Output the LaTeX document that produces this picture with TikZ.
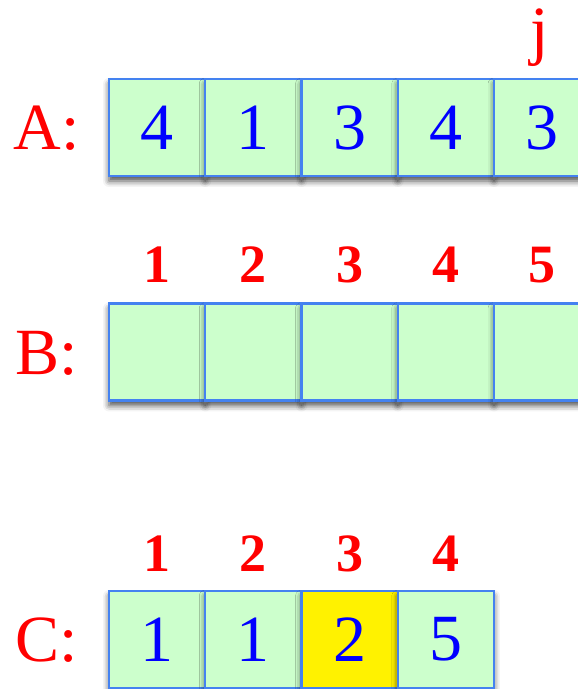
\documentclass[tikz,border=0pt]{standalone}
\usepackage{fontspec}
\setmainfont{Liberation Serif}
\usetikzlibrary{shadows.blur}
\definecolor{cellgreen}{RGB}{204,255,204}
\definecolor{cellblue}{RGB}{68,130,240}

\begin{document}
\begin{tikzpicture}[x=0.5pt, y=0.5pt,
    cell/.style={draw=cellblue, line width=1.1pt, fill=cellgreen, minimum width=48.1pt, minimum height=48.5pt,
      inner sep=0pt, outer sep=0pt, text=blue, font=\fontsize{33}{33}\selectfont,
      blur shadow={shadow xshift=0pt, shadow yshift=-2.5pt, shadow blur radius=3pt, shadow opacity=70}},
    rowlabel/.style={anchor=base, text=red, font=\fontsize{33}{33}\selectfont},
    idx/.style={anchor=base, text=red, font=\fontsize{27}{27}\selectfont\bfseries}]
  \useasboundingbox (0,0) rectangle (577,689);
  % array A
  \node[rowlabel] (labA) at (46.5,539) {A:};
  \foreach \v [count=\i] in {4,1,3,4,3}
    \node[cell] (a\i) at (96.25*\i+60.875, 561.5) {\v};
  \node[rowlabel] (j) at (540,636) {j};
  % array B
  \node[rowlabel] (labB) at (46.5,314.5) {B:};
  \foreach \i in {1,...,5} {
    \node[cell] (b\i) at (96.25*\i+60.875, 337) {};
    \node[idx] (bi\i) at (96.25*\i+60.875, 406) {\i};
  }
  % array C
  \node[rowlabel] (labC) at (46.5,27) {C:};
  \foreach \v/\f [count=\i] in {1/cellgreen,1/cellgreen,2/yellow,5/cellgreen} {
    \node[cell, fill=\f] (c\i) at (96.25*\i+60.875, 49.4) {\v};
    \node[idx] (ci\i) at (96.25*\i+60.875, 117) {\i};
  }
\end{tikzpicture}
\end{document}
